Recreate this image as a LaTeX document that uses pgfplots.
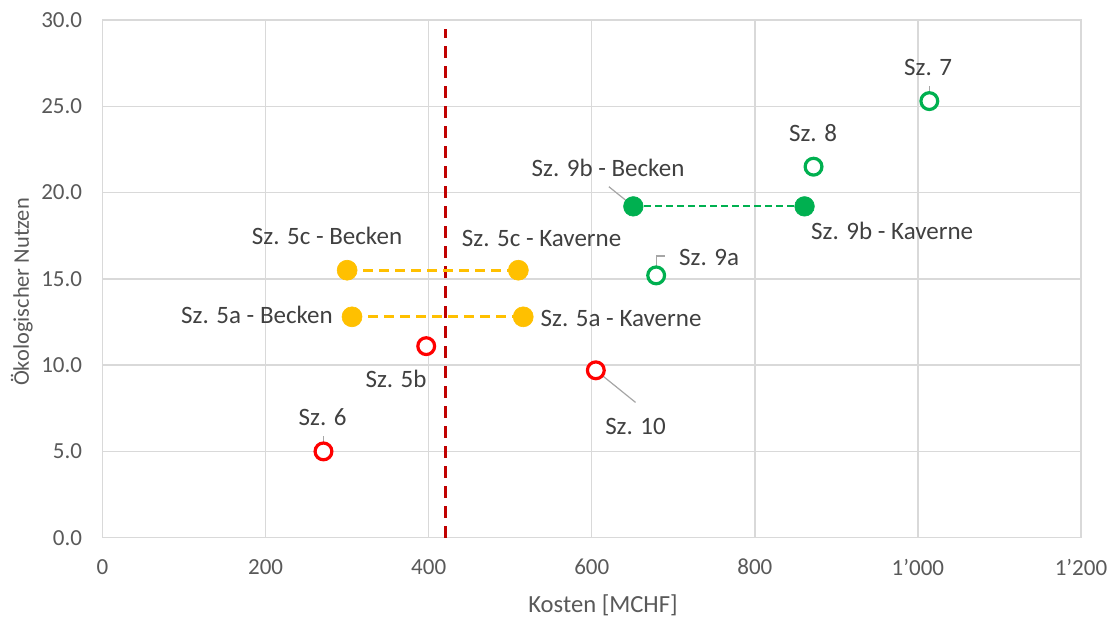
\documentclass[border=0pt]{standalone}
\usepackage{pgfplots}
\pgfplotsset{compat=1.18}
\usepackage{fontspec}
\setmainfont{Carlito}
\definecolor{szred}{HTML}{FF0000}
\definecolor{szgreen}{HTML}{00B050}
\definecolor{szyellow}{HTML}{FFC000}
\definecolor{limitred}{HTML}{C00000}
\definecolor{gridgray}{HTML}{D9D9D9}
\definecolor{ticktext}{HTML}{595959}
\definecolor{labeltext}{HTML}{404040}
\definecolor{leadergray}{HTML}{A6A6A6}
\tikzset{
  lbl/.style={font=\fontsize{12.5}{14}\selectfont, text=labeltext, inner sep=0pt},
  leader/.style={leadergray, line width=0.6pt},
}

\begin{document}
\begin{tikzpicture}
\useasboundingbox (-51.25pt,-41.65pt) rectangle (506.75pt,268.85pt);
\begin{axis}[
  scale only axis, width=489.25pt, height=258.85pt,
  xmin=0, xmax=1200, ymin=0, ymax=30,
  xtick={0,200,...,1200}, ytick={0,5,...,30},
  grid=major, major grid style={gridgray, line width=0.75pt},
  axis line style={gridgray, line width=0.75pt},
  major tick length=0pt,
  /pgf/number format/assume math mode=true,
  tick label style={font=\fontsize{11.5}{13}\selectfont, text=ticktext, inner sep=0pt},
  xticklabel style={anchor=center, yshift=-14.7pt, /pgf/number format/1000 sep={’}},
  yticklabel style={anchor=east, xshift=-10pt,
    /pgf/number format/fixed, /pgf/number format/fixed zerofill,
    /pgf/number format/precision=1},
  xlabel={Kosten [MCHF]}, ylabel={Ökologischer Nutzen},
  label style={text=ticktext},
  xlabel style={font=\fontsize{12.3}{14}\selectfont,
    at={(axis description cs:0.5115,-0.130)}, anchor=center},
  ylabel style={font=\fontsize{11.2}{13}\selectfont,
    at={(axis description cs:-0.0825,0.4746)}, anchor=center},
  clip=false,
]

% cost threshold
\addplot[limitred, line width=1.5pt, dash pattern=on 6pt off 4pt]
  coordinates {(421,0) (421,29.5)};

% Sz. 5c and Sz. 5a: Becken vs. Kaverne
\addplot[szyellow, line width=1.5pt, dash pattern=on 5pt off 3pt,
  mark=*, mark size=5pt, mark options={solid, fill=szyellow, draw=szyellow, line width=0.3pt}]
  coordinates {(300,15.5) (510,15.5)};
\addplot[szyellow, line width=1.5pt, dash pattern=on 5pt off 3pt,
  mark=*, mark size=5pt, mark options={solid, fill=szyellow, draw=szyellow, line width=0.3pt}]
  coordinates {(306,12.8) (516,12.8)};

% Sz. 9b: Becken vs. Kaverne
\addplot[szgreen, line width=1.1pt, dash pattern=on 3.5pt off 2pt,
  mark=*, mark size=4.9pt, mark options={solid, fill=szgreen, draw=szgreen, line width=0.3pt}]
  coordinates {(651,19.2) (861,19.2)};

% single scenarios
\addplot[only marks, mark=*, mark size=4.2pt,
  mark options={draw=szred, fill=white, line width=1.6pt}]
  coordinates {(271,5.0) (397,11.1) (605,9.7)};
\addplot[only marks, mark=*, mark size=4.2pt,
  mark options={draw=szgreen, fill=white, line width=1.6pt}]
  coordinates {(679,15.2) (872,21.5) (1014,25.3)};

% leader lines
\draw[leader] (axis cs:1014,25.3) -- (axis cs:1014,26.15);
\draw[leader] (axis cs:651,19.2) -- (axis cs:621,20.34);
\draw[leader] (axis cs:679,15.2) -- (axis cs:679,16.32) -- (axis cs:689.7,16.32);
\draw[leader] (axis cs:271,5.0) -- (axis cs:271,5.9);
\draw[leader] (axis cs:605,9.7) -- (axis cs:653.7,7.84);

% data labels
\node[lbl] at (axis cs:1012.5,27.26) {Sz. 7};
\node[lbl] at (axis cs:871.4,23.45) {Sz. 8};
\node[lbl] at (axis cs:620,21.44) {Sz. 9b - Becken};
\node[lbl] at (axis cs:968.4,17.77) {Sz. 9b - Kaverne};
\node[lbl] at (axis cs:538.5,17.36) {Sz. 5c - Kaverne};
\node[lbl] at (axis cs:744,16.26) {Sz. 9a};
\node[lbl] at (axis cs:275.4,17.48) {Sz. 5c - Becken};
\node[lbl] at (axis cs:189.5,12.9) {Sz. 5a - Becken};
\node[lbl] at (axis cs:636,12.73) {Sz. 5a - Kaverne};
\node[lbl] at (axis cs:360,9.2) {Sz. 5b};
\node[lbl] at (axis cs:270,7.0) {Sz. 6};
\node[lbl] at (axis cs:653.7,6.43) {Sz. 10};
\end{axis}
\end{tikzpicture}
\end{document}
